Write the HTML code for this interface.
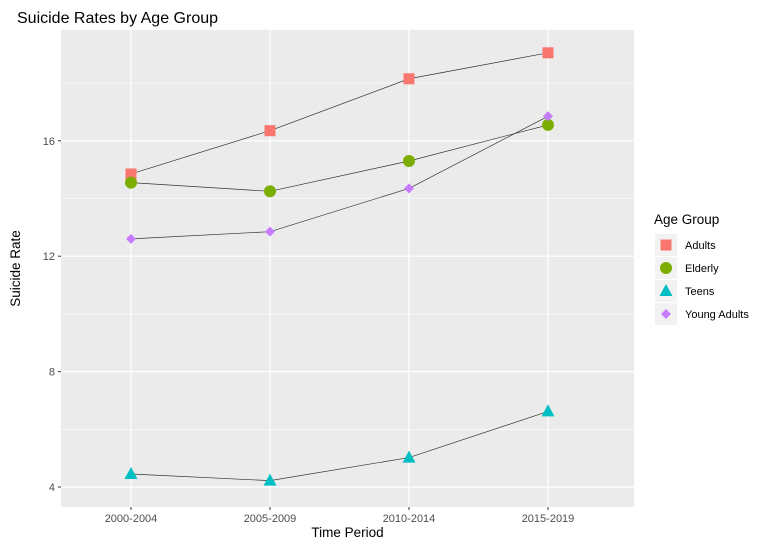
<!DOCTYPE html>
<html><head><meta charset="utf-8"><style>
body{margin:0;background:#fff;font-family:"Liberation Sans",Arial,sans-serif}
</style></head><body>
<svg width="772" height="547" xmlns="http://www.w3.org/2000/svg">
<g id="root"></g>
</svg>
<script>
const categories=["2000-2004","2005-2009","2010-2014","2015-2019"];
const adults=[14.85,16.35,18.15,19.05];
const elderly=[14.55,14.25,15.3,16.55];
const teens=[4.45,4.22,5.02,6.62];
const youngAdults=[12.6,12.85,14.35,16.85];
const yTicks=[4,8,12,16];
const seriesNames=["Adults","Elderly","Teens","Young Adults"];
const colors=["#F8766D","#7CAE00","#00BFC4","#C77CFF"];

const ns="http://www.w3.org/2000/svg";
const root=document.getElementById('root');
const L=61,R=634,T=30,B=507;
function x(i){return 131+i*139;}
function y(v){return 487-(v-4)*28.85;}
function mk(tag,attrs,parent){const e=document.createElementNS(ns,tag);for(const k in attrs)e.setAttribute(k,attrs[k]);(parent||root).appendChild(e);return e;}

let bg=mk('rect',{x:L,y:T,width:R-L,height:B-T,fill:'#EBEBEB'});


// minor grid
for(let v=2;v<=20;v+=4){const yy=y(v);if(yy>T&&yy<B){let g=mk('line',{x1:L,x2:R,y1:yy,y2:yy,stroke:'#fff','stroke-width':0.6});

}}
yTicks.forEach(v=>{const yy=y(v);let g=mk('line',{x1:L,x2:R,y1:yy,y2:yy,stroke:'#fff','stroke-width':1.2});


mk('line',{x1:L-3,x2:L,y1:yy,y2:yy,stroke:'#333'});
let t=mk('text',{x:L-6,y:yy+4,'text-anchor':'end','font-size':11,fill:'#4D4D4D'});t.textContent=v;

});
categories.forEach((c,i)=>{const xx=x(i);let g=mk('line',{x1:xx,x2:xx,y1:T,y2:B,stroke:'#fff','stroke-width':1.2});


mk('line',{x1:xx,x2:xx,y1:B,y2:B+3,stroke:'#333'});
let t=mk('text',{x:xx,y:B+15,'text-anchor':'middle','font-size':11,fill:'#4D4D4D'});t.textContent=c;

});

function marker(shape,cx,cy,col,parent){
 if(shape===0)return mk('rect',{x:cx-5.5,y:cy-5.5,width:11,height:11,fill:col},parent);
 if(shape===1)return mk('circle',{cx:cx,cy:cy,r:6,fill:col},parent);
 if(shape===2)return mk('polygon',{points:`${cx},${cy-7} ${cx+6.5},${cy+5} ${cx-6.5},${cy+5}`,fill:col},parent);
 return mk('polygon',{points:`${cx},${cy-5} ${cx+5},${cy} ${cx},${cy+5} ${cx-5},${cy}`,fill:col},parent);
}
const all=[adults,elderly,teens,youngAdults];
all.forEach((s,k)=>{
 let p=mk('polyline',{points:s.map((v,i)=>x(i)+','+y(v)).join(' '),fill:'none',stroke:'#333','stroke-width':0.7});
 
 
});
all.forEach((s,k)=>{s.forEach((v,i)=>{let m=marker(k,x(i),y(v),colors[k]);
 
 });});

let title=mk('text',{x:17,y:23,'font-size':16,fill:'#000'});title.textContent='Suicide Rates by Age Group';


let xt=mk('text',{x:(L+R)/2,y:537,'text-anchor':'middle','font-size':13.5});xt.textContent='Time Period';


let yt=mk('text',{x:20,y:(T+B)/2,'text-anchor':'middle','font-size':13.5,transform:`rotate(-90 20 ${(T+B)/2})`});yt.textContent='Suicide Rate';



let lt=mk('text',{x:654,y:224,'font-size':13.5});lt.textContent='Age Group';


seriesNames.forEach((n,k)=>{const cy=245+k*23;
 let g=mk('g',{});
 
 
 mk('rect',{x:655,y:cy-11,width:22,height:22,fill:'#F2F2F2'},g);
 marker(k,666,cy,colors[k],g);
 let t=mk('text',{x:685,y:cy+4,'font-size':11},g);t.textContent=n;
});
</script>
</body></html>
